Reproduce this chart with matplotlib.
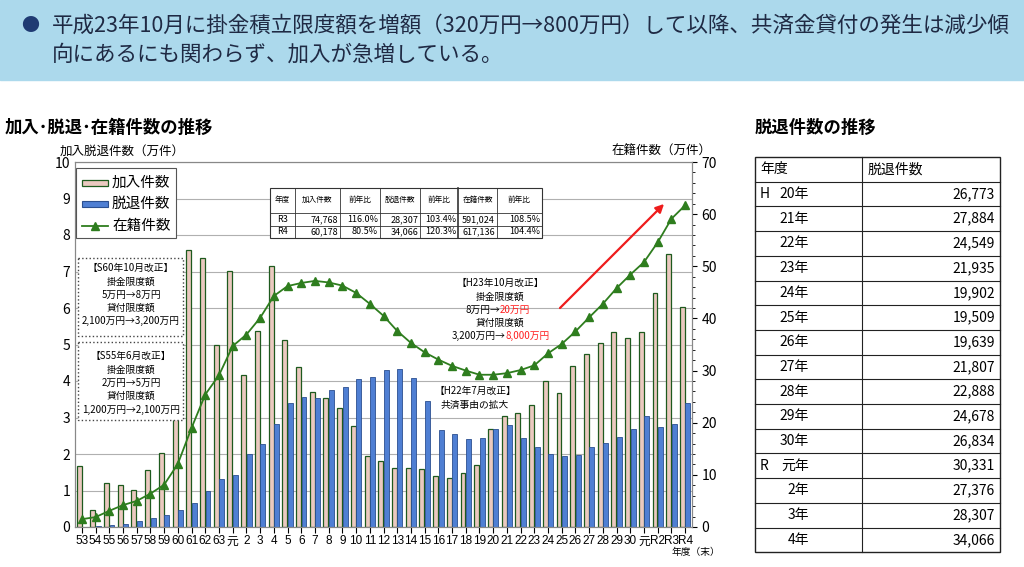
import numpy as np
import matplotlib
matplotlib.use("Agg")
import matplotlib.pyplot as plt
from matplotlib.patches import Rectangle, FancyArrowPatch

plt.rcParams['font.family'] = ['Noto Sans CJK JP', 'DejaVu Sans']

# 年度ラベル (S53..S63, H元..H30, R元..R4)
years = [str(y) for y in range(53, 64)] + ['元'] + [str(y) for y in range(2, 31)] + ['元', 'R2', 'R3', 'R4']

# 加入件数 (万件)
join = [1.66, 0.47, 1.20, 1.14, 1.02, 1.55, 2.03, 4.64, 7.60, 7.38, 4.98,
        7.01, 4.17, 5.36, 7.16, 5.13, 4.38, 3.70, 3.54, 3.25, 2.77, 1.94, 1.81, 1.62,
        1.62, 1.60, 1.39, 1.35, 1.49, 1.69, 2.68, 3.03, 3.12, 3.35, 3.99, 3.68,
        4.41, 4.73, 5.04, 5.33, 5.19, 5.33, 6.42, 7.48, 6.02]
# 脱退件数 (万件)
leave = [0.01, 0.02, 0.05, 0.09, 0.16, 0.25, 0.34, 0.46, 0.67, 1.00, 1.31,
         1.43, 2.00, 2.28, 2.81, 3.41, 3.56, 3.54, 3.74, 3.84, 4.06, 4.11, 4.31, 4.34,
         4.09, 3.44, 2.65, 2.56, 2.42, 2.44, 2.68, 2.79, 2.45, 2.19, 1.99, 1.95,
         1.96, 2.18, 2.29, 2.47, 2.68, 3.03, 2.74, 2.83, 3.41]
# 在籍件数 (万件)
members = [1.5, 1.9, 3.1, 4.2, 5.0, 6.4, 8.1, 12.1, 19.0, 25.4, 29.1,
           34.7, 36.9, 40.1, 44.3, 46.2, 46.8, 47.2, 46.9, 46.3, 44.9, 42.8, 40.5, 37.6,
           35.3, 33.5, 32.1, 30.9, 30.0, 29.2, 29.2, 29.5, 30.1, 31.0, 33.3, 35.1,
           37.5, 40.2, 42.8, 45.8, 48.4, 50.8, 54.6, 59.1, 61.7]

tbl_head = ['年度', '加入件数', '前年比', '脱退件数', '前年比', '在籍件数', '前年比']
tbl_rows = [['R3', '74,768', '116.0%', '28,307', '103.4%', '591,024', '108.5%'],
            ['R4', '60,178', '80.5%', '34,066', '120.3%', '617,136', '104.4%']]

side_pre = ['H', '', '', '', '', '', '', '', '', '', '', 'R', '', '', '']
side_years = ['20年', '21年', '22年', '23年', '24年', '25年', '26年', '27年', '28年', '29年', '30年',
              '元年', '2年', '3年', '4年']
side_vals = ['26,773', '27,884', '24,549', '21,935', '19,902', '19,509', '19,639', '21,807',
             '22,888', '24,678', '26,834', '30,331', '27,376', '28,307', '34,066']

W, H = 1024, 567
fig = plt.figure(figsize=(W / 100, H / 100), dpi=100)

# main chart
ax = fig.add_axes([75 / W, 1 - 527 / H, 617 / W, 365 / H])
x = np.arange(len(years))
bw = 0.36
ax.bar(x - bw / 2 - 0.02, join, bw, color='#ebc9c0', edgecolor='#1e5a1e', linewidth=0.9, zorder=2)
ax.bar(x + bw / 2 + 0.02, leave, bw, color='#4f7fd3', edgecolor='#2b4f90', linewidth=0.6, zorder=2)
ax.set_xlim(-0.5, len(years) - 0.5)
ax.set_ylim(0, 10)
ax.set_yticks(range(0, 11))
ax.grid(axis='y', color='#b0b0b0', linewidth=0.8, zorder=0)
ax.set_xticks(x)
ax.set_xticklabels(years, fontsize=8.5, family=['Liberation Sans', 'Noto Sans CJK JP'])
ax.tick_params(axis='x', length=4, pad=2)
ax.tick_params(axis='y', labelsize=10, length=0)
for s in ax.spines.values():
    s.set_color('#888888')

ax2 = ax.twinx()
ax2.plot(x, members, color='#2e7d1e', marker='^', markersize=6, linewidth=1.3, zorder=3)
ax2.set_ylim(0, 70)
ax2.set_yticks(range(0, 71, 10))
ax2.set_yticks(range(0, 71, 2), minor=True)
ax2.tick_params(axis='y', labelsize=10)
for s in ax2.spines.values():
    s.set_color('#888888')

# overlay in pixel coordinates
ov = fig.add_axes([0, 0, 1, 1], zorder=10)
ov.set_xlim(0, W)
ov.set_ylim(H, 0)
ov.axis('off')
ov.patch.set_alpha(0)

# banner
ov.add_patch(Rectangle((0, 0), W, 80, color='#acd9ec'))
ov.text(30, 26, '●', fontsize=13, color='#1f3b73', va='center', ha='center')
ov.text(52, 26, '平成23年10月に掛金積立限度額を増額（320万円→800万円）して以降、共済金貸付の発生は減少傾',
        fontsize=15.5, va='center', color='#1f2a44')
ov.text(52, 55, '向にあるにも関わらず、加入が急増している。', fontsize=15.5, va='center', color='#1f2a44')

ov.text(5, 128, '加入･脱退･在籍件数の推移', fontsize=12.5, weight='bold', va='center')
ov.text(755, 128, '脱退件数の推移', fontsize=12.5, weight='bold', va='center')
ov.text(60, 151, '加入脱退件数（万件）', fontsize=9, va='center')
ov.text(612, 151, '在籍件数（万件）', fontsize=9, va='center')
ov.text(672, 552, '年度（末）', fontsize=7, va='center')

# legend
ov.add_patch(Rectangle((76, 168), 100, 70, facecolor='white', edgecolor='#555555', linewidth=0.8))
ov.add_patch(Rectangle((82, 180), 26, 6, facecolor='#ebc9c0', edgecolor='#1e5a1e', linewidth=0.9))
ov.add_patch(Rectangle((82, 201), 26, 6, facecolor='#4f7fd3', edgecolor='#2b4f90', linewidth=0.8))
ov.plot([82, 108], [226, 226], color='#2e7d1e', linewidth=1.3)
ov.plot([95], [226], marker='^', color='#2e7d1e', markersize=6)
for yy, lab in zip([183, 204, 226], ['加入件数', '脱退件数', '在籍件数']):
    ov.text(112, yy, lab, fontsize=10.5, va='center')

# inner summary table
cx = [270, 295, 340, 380, 420, 458, 497, 542]
ry = [188, 213, 226, 238]
ov.add_patch(Rectangle((270, 188), 272, 50, facecolor='white', edgecolor='#333333', linewidth=0.8))
for xx in cx[1:-1]:
    ov.plot([xx, xx], [188, 238], color='#333333', linewidth=1.2 if xx == 458 else 0.6)
for yy in ry[1:-1]:
    ov.plot([270, 542], [yy, yy], color='#333333', linewidth=0.6)
for j, h in enumerate(tbl_head):
    ov.text((cx[j] + cx[j + 1]) / 2, 200, h, fontsize=5.5, ha='center', va='center')
for i, row in enumerate(tbl_rows):
    yc = (ry[i + 1] + ry[i + 2]) / 2
    for j, v in enumerate(row):
        if j == 0:
            ov.text((cx[0] + cx[1]) / 2, yc, v, fontsize=6.5, ha='center', va='center')
        else:
            ov.text(cx[j + 1] - 2, yc, v, fontsize=6.5, ha='right', va='center')

# annotation boxes
ov.add_patch(Rectangle((78, 258), 105, 78, facecolor='white', edgecolor='#444444', linestyle=':', linewidth=1))
ov.add_patch(Rectangle((78, 342), 105, 78, facecolor='white', edgecolor='#444444', linestyle=':', linewidth=1))
for yy, t in zip([268, 282, 295, 308, 321], ['【S60年10月改正】', '掛金限度額', '5万円→8万円', '貸付限度額', '2,100万円→3,200万円']):
    ov.text(131, yy, t, fontsize=7, ha='center', va='center')
for yy, t in zip([356, 370, 383, 396, 410], ['【S55年6月改正】', '掛金限度額', '2万円→5万円', '貸付限度額', '1,200万円→2,100万円']):
    ov.text(131, yy, t, fontsize=7, ha='center', va='center')

ov.text(500, 283, '【H23年10月改正】', fontsize=7, ha='center', va='center')
ov.text(500, 297, '掛金限度額', fontsize=7, ha='center', va='center')
ov.text(500, 310, '8万円→', fontsize=7, ha='right', va='center')
ov.text(500, 310, '20万円', fontsize=7, ha='left', va='center', color='#ff2020')
ov.text(500, 323, '貸付限度額', fontsize=7, ha='center', va='center')
ov.text(506, 336, '3,200万円→', fontsize=7, ha='right', va='center')
ov.text(506, 336, '8,000万円', fontsize=7, ha='left', va='center', color='#ff2020')
ov.text(475, 391, '【H22年7月改正】', fontsize=7, ha='center', va='center')
ov.text(475, 405, '共済事由の拡大', fontsize=7, ha='center', va='center')

ov.add_patch(FancyArrowPatch((558, 310), (666, 202), arrowstyle='-|>', mutation_scale=12,
                             color='#ee1c1c', linewidth=1.6))

# side table
tx0, tx1, tmid = 755, 1000, 862
top, rh = 157, 24.7
nrows = len(side_years) + 1
ov.add_patch(Rectangle((tx0, top), tx1 - tx0, rh * nrows, facecolor='white', edgecolor='#222222', linewidth=1))
ov.plot([tmid, tmid], [top, top + rh * nrows], color='#222222', linewidth=0.8)
for i in range(1, nrows):
    ov.plot([tx0, tx1], [top + rh * i, top + rh * i], color='#222222', linewidth=0.8)
ov.text(760, top + rh / 2, '年度', fontsize=10, va='center')
ov.text(868, top + rh / 2, '脱退件数', fontsize=10, va='center')
for i in range(len(side_years)):
    yc = top + rh * (i + 1.5)
    if side_pre[i]:
        ov.text(760, yc, side_pre[i], fontsize=10, va='center')
    ov.text(809, yc, side_years[i], fontsize=10, va='center', ha='right')
    ov.text(995, yc, side_vals[i], fontsize=10, va='center', ha='right')

fig.savefig('out.png', dpi=100)
